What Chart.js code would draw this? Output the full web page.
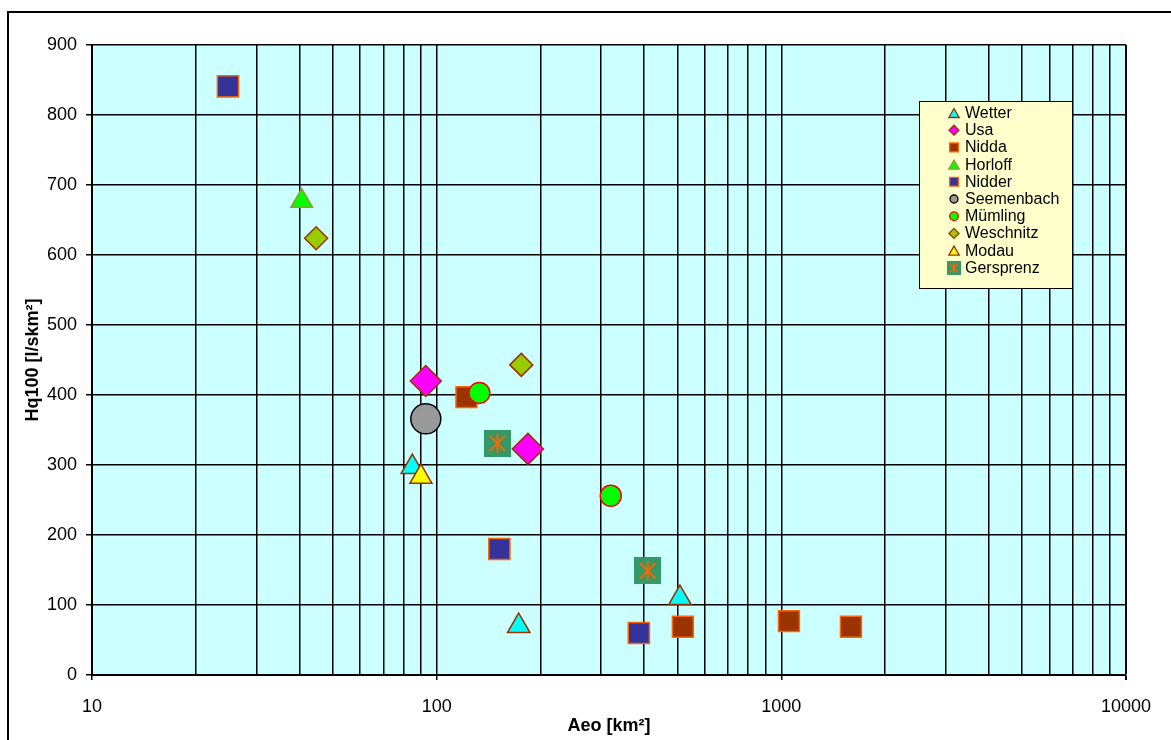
<!DOCTYPE html>
<html>
<head>
<meta charset="utf-8">
<script src="https://cdn.jsdelivr.net/npm/chart.js@4/dist/chart.umd.min.js"></script>
<style>
  body { margin: 0; background: #fff; }
  #wrap { width: 1171px; height: 740px; position: relative; }
</style>
</head>
<body>
<div id="wrap"><canvas id="hqChart"></canvas></div>
<script>
var wetterAeo = [85, 173, 508];
var wetterHq = [297, 70, 110];
var usaAeo = [93, 184];
var usaHq = [420, 323];
var niddaAeo = [122, 518, 1052, 1592];
var niddaHq = [397, 69, 77, 69];
var horloffAeo = [40.6];
var horloffHq = [677];
var nidderAeo = [24.8, 152, 386];
var nidderHq = [841, 180, 60];
var seemenbachAeo = [93];
var seemenbachHq = [366];
var muemlingAeo = [133, 320];
var muemlingHq = [403, 256];
var weschnitzAeo = [44.7, 176];
var weschnitzHq = [624, 443];
var modauAeo = [90];
var modauHq = [283];
var gersprenzAeo = [150, 410];
var gersprenzHq = [331, 149];

// Achsen
var xTicks = [10, 20, 30, 40, 50, 60, 70, 80, 90,
              100, 200, 300, 400, 500, 600, 700, 800, 900,
              1000, 2000, 3000, 4000, 5000, 6000, 7000, 8000, 9000, 10000];
var xLabels = [10, 100, 1000, 10000];
var yTicks = [0, 100, 200, 300, 400, 500, 600, 700, 800, 900];

function pts(xs, ys) {
    return xs.map(function(x, i) { return { x: x, y: ys[i] }; });
}

// Gersprenz-Symbol: gruenes Quadrat mit oranger Stern-Markierung
function gersprenzIcon(size, lw) {
    var c = document.createElement('canvas');
    c.width = size; c.height = size;
    var g = c.getContext('2d');
    g.fillStyle = '#339966';
    g.fillRect(0, 0, size, size);
    g.strokeStyle = '#FF6600';
    g.lineWidth = lw;
    var m = size / 2, a = size * 0.36;
    g.beginPath();
    g.moveTo(m, m - a); g.lineTo(m, m + a);
    g.moveTo(m - a * 0.8, m - a * 0.8); g.lineTo(m + a * 0.8, m + a * 0.8);
    g.moveTo(m + a * 0.8, m - a * 0.8); g.lineTo(m - a * 0.8, m + a * 0.8);
    g.stroke();
    return c;
}
var gIconBig = gersprenzIcon(27, 2);
var gIconSmall = gersprenzIcon(14, 1.3);

var series = [
    { label: 'Wetter', data: pts(wetterAeo, wetterHq), style: 'triangle', fill: '#00FFFF', edge: '#993300', r: 13, lr: 6 },
    { label: 'Usa', data: pts(usaAeo, usaHq), style: 'rectRot', fill: '#FF00FF', edge: '#993300', r: 15.5, lr: 5 },
    { label: 'Nidda', data: pts(niddaAeo, niddaHq), style: 'rect', fill: '#993300', edge: '#FF6600', r: 14.8, lr: 6.2 },
    { label: 'Horloff', data: pts(horloffAeo, horloffHq), style: 'triangle', fill: '#00FF00', edge: '#999933', r: 12.5, lr: 6 },
    { label: 'Nidder', data: pts(nidderAeo, nidderHq), style: 'rect', fill: '#333399', edge: '#FF6600', r: 15, lr: 6.2 },
    { label: 'Seemenbach', data: pts(seemenbachAeo, seemenbachHq), style: 'circle', fill: '#999999', edge: '#000000', r: 15, lr: 4 },
    { label: 'Mümling', data: pts(muemlingAeo, muemlingHq), style: 'circle', fill: '#00FF00', edge: '#FF0000', r: 10.5, lr: 4.3 },
    { label: 'Weschnitz', data: pts(weschnitzAeo, weschnitzHq), style: 'rectRot', fill: '#99CC00', edge: '#993300', r: 11.5, lr: 5 },
    { label: 'Modau', data: pts(modauAeo, modauHq), style: 'triangle', fill: '#FFFF00', edge: '#993300', r: 12.7, lr: 6 },
    { label: 'Gersprenz', data: pts(gersprenzAeo, gersprenzHq), style: gIconBig, fill: '#339966', edge: '#339966', r: 13, lr: 7 }
];

var datasets = series.map(function(s, i) {
    return {
        label: s.label,
        data: s.data,
        pointStyle: s.style,
        pointRadius: s.r,
        pointHoverRadius: s.r,
        backgroundColor: s.fill,
        borderColor: s.edge,
        borderWidth: 1.5,
        order: 20 - i,
        clip: false
    };
});

var FONT = 'Arial, "Liberation Sans", sans-serif';

// Hintergrund, Zeichenflaeche und Rahmen
var bgPlugin = {
    id: 'bg',
    beforeDraw: function(chart) {
        var ctx = chart.ctx, a = chart.chartArea;
        ctx.save();
        ctx.fillStyle = '#FFFFFF';
        ctx.fillRect(0, 0, chart.width, chart.height);
        ctx.fillStyle = '#CCFFFF';
        ctx.fillRect(a.left, a.top, a.right - a.left, a.bottom - a.top);
        ctx.strokeStyle = '#000000';
        ctx.lineWidth = 2;
        ctx.strokeRect(8, 12, chart.width + 20, chart.height + 20);
        ctx.restore();
    }
};

// Legende im Diagramm (rechts oben)
var legendPlugin = {
    id: 'boxLegend',
    afterDraw: function(chart) {
        var ctx = chart.ctx;
        var bx = 919.5, by = 101.5, bw = 153, bh = 187;
        ctx.save();
        ctx.fillStyle = '#FFFFCC';
        ctx.fillRect(bx, by, bw, bh);
        ctx.strokeStyle = '#000000';
        ctx.lineWidth = 1;
        ctx.strokeRect(bx, by, bw, bh);
        ctx.font = '16px ' + FONT;
        ctx.textBaseline = 'middle';
        ctx.textAlign = 'left';
        series.forEach(function(s, i) {
            var y = 113 + i * 17.2;
            var mx = 954;
            ctx.fillStyle = s.fill;
            ctx.strokeStyle = s.edge;
            ctx.lineWidth = 1.3;
            if (s.label === 'Gersprenz') {
                ctx.drawImage(gIconSmall, mx - 7, y - 7);
            } else {
                var my = s.style === 'triangle' ? y + 1.5 : y;
                Chart.helpers.drawPoint(ctx, { pointStyle: s.style, radius: s.lr, rotation: 0, borderWidth: 1.3 }, mx, my);
            }
            ctx.fillStyle = '#000000';
            ctx.fillText(s.label, 965, y + 0.5);
        });
        ctx.restore();
    }
};

var ctx = document.getElementById('hqChart').getContext('2d');
var hqChart = new Chart(ctx, {
    type: 'scatter',
    data: { datasets: datasets },
    plugins: [bgPlugin, legendPlugin],
    options: {
        responsive: true,
        maintainAspectRatio: false,
        animation: false,
        layout: { padding: { left: 0, top: 45, right: 45, bottom: 0 } },
        plugins: {
            legend: { display: false },
            tooltip: { enabled: false }
        },
        scales: {
            x: {
                type: 'logarithmic',
                min: 10,
                max: 10000,
                afterBuildTicks: function(scale) {
                    scale.ticks = xTicks.map(function(v) { return { value: v }; });
                },
                afterFit: function(scale) { scale.height = 65; },
                ticks: {
                    autoSkip: false,
                    maxRotation: 0,
                    padding: 16,
                    color: '#000000',
                    font: { family: FONT, size: 18 },
                    callback: function(v) { return xLabels.indexOf(v) >= 0 ? String(v) : ''; }
                },
                grid: {
                    color: '#000000',
                    lineWidth: function(c) { return c.tick && c.tick.value === 10000 ? 2 : 1.5; },
                    tickLength: 5,
                    tickColor: function(c) { return c.tick && xLabels.indexOf(c.tick.value) >= 0 ? '#000000' : 'rgba(0,0,0,0)'; }
                },
                border: { color: '#000000', width: 2 },
                title: {
                    display: true,
                    text: 'Aeo [km²]',
                    color: '#000000',
                    font: { family: FONT, size: 18, weight: 'bold' },
                    padding: { top: 0, bottom: 3 }
                }
            },
            y: {
                min: 0,
                max: 900,
                afterBuildTicks: function(scale) {
                    scale.ticks = yTicks.map(function(v) { return { value: v }; });
                },
                afterFit: function(scale) { scale.width = 92; },
                ticks: {
                    autoSkip: false,
                    padding: 9,
                    color: '#000000',
                    font: { family: FONT, size: 18 }
                },
                grid: {
                    color: '#000000',
                    lineWidth: 1.5,
                    tickLength: 6,
                    tickColor: '#000000'
                },
                border: { color: '#000000', width: 2 },
                title: {
                    display: true,
                    text: 'Hq100 [l/skm²]',
                    color: '#000000',
                    font: { family: FONT, size: 18, weight: 'bold' },
                    padding: { top: 22, bottom: 0 }
                }
            }
        }
    }
});
</script>
</body>
</html>
